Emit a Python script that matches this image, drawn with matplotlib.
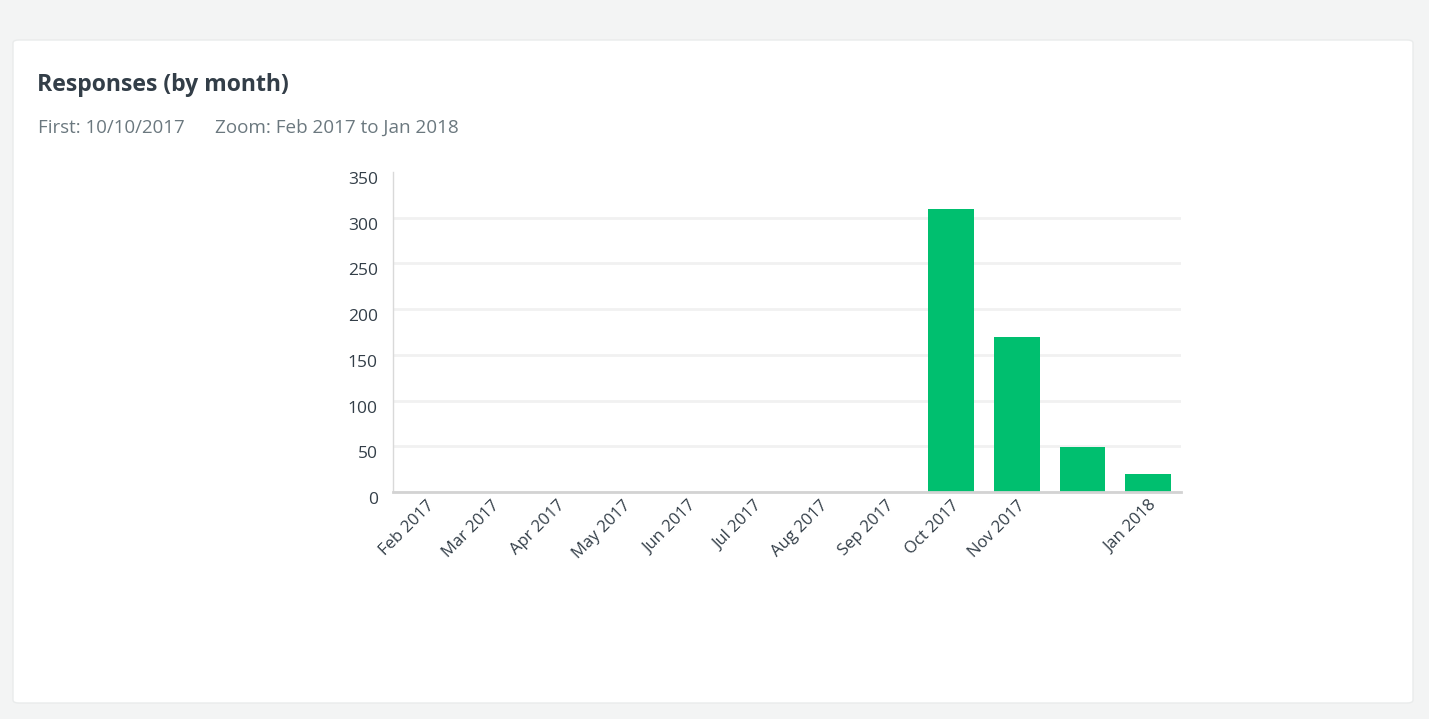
import matplotlib.pyplot as plt
from matplotlib.patches import FancyBboxPatch

# データ（月ごとの回答数）
months = ["Feb 2017", "Mar 2017", "Apr 2017", "May 2017", "Jun 2017", "Jul 2017",
          "Aug 2017", "Sep 2017", "Oct 2017", "Nov 2017", "Dec 2017", "Jan 2018"]
tick_labels = ["Feb 2017", "Mar 2017", "Apr 2017", "May 2017", "Jun 2017", "Jul 2017",
               "Aug 2017", "Sep 2017", "Oct 2017", "Nov 2017", "", "Jan 2018"]
responses = [0, 0, 0, 0, 0, 0, 0, 0, 309, 170, 49, 20]
y_ticks = [0, 50, 100, 150, 200, 250, 300, 350]

plt.rcParams["font.family"] = ["Open Sans", "DejaVu Sans"]

W, H = 1429, 719
fig = plt.figure(figsize=(W / 100, H / 100), dpi=100)
fig.patch.set_facecolor("#f3f4f4")

# 白いカード
card = FancyBboxPatch((13 / W, 1 - 703 / H), 1400 / W, 663 / H,
                      boxstyle="round,pad=0,rounding_size=0.004",
                      transform=fig.transFigure, facecolor="white",
                      edgecolor="#e9ebeb", linewidth=1, zorder=-5)
fig.patches.append(card)

fig.text(37 / W, 1 - 85 / H, "Responses (by month)", fontsize=16.6, fontweight="bold",
         color="#333e48", va="center", ha="left")
fig.text(38 / W, 1 - 128 / H, "First: 10/10/2017", fontsize=13.4,
         color="#6b787f", va="center", ha="left")
fig.text(215 / W, 1 - 128 / H, "Zoom: Feb 2017 to Jan 2018", fontsize=13.6,
         color="#6b787f", va="center", ha="left")

ax = fig.add_axes([393 / W, 1 - 492 / H, (1181 - 393) / W, (492 - 172) / H])
ax.set_facecolor("white")
x = range(len(months))
ax.bar(x, responses, width=0.7, color="#00bf6f", zorder=3)
ax.set_xlim(-0.5, len(months) - 0.5)
ax.set_ylim(0, 350)
ax.set_yticks(y_ticks)
ax.set_yticklabels([str(v) for v in y_ticks])
for lbl in ax.get_yticklabels():
    lbl.set_verticalalignment("top")
ax.set_xticks(list(x))
ax.set_xticklabels(tick_labels, rotation=45, ha="right", rotation_mode="anchor")
ax.tick_params(axis="both", length=0, colors="#333e48")
ax.tick_params(axis="y", pad=11, labelsize=12.5)
ax.tick_params(axis="x", pad=4, labelsize=12)
ax.yaxis.grid(True, color="#f1f1f1", linewidth=2, zorder=0)
ax.get_ygridlines()[-1].set_visible(False)
for s in ["top", "right"]:
    ax.spines[s].set_visible(False)
ax.spines["left"].set_color("#d9d9d9")
ax.spines["left"].set_linewidth(1)
ax.spines["bottom"].set_color("#d3d3d3")
ax.spines["bottom"].set_linewidth(2)
ax.spines["bottom"].set_zorder(4)

plt.savefig("out.png", dpi=100, facecolor=fig.get_facecolor())
